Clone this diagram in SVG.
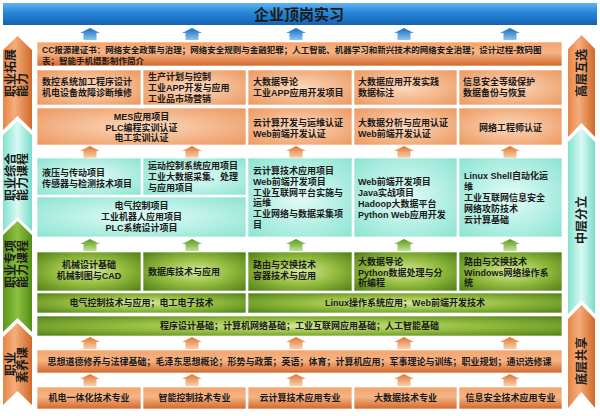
<svg xmlns="http://www.w3.org/2000/svg" xmlns:xlink="http://www.w3.org/1999/xlink" width="600" height="416" viewBox="0 0 600 416">
<defs>
<style>
.t{font-family:"Liberation Sans","Noto Sans CJK SC",sans-serif;font-size:9px;font-weight:bold;fill:#1a1a1a}
.c{text-anchor:middle}
.s{font-size:12px;dominant-baseline:central}
.ttl{font-size:15px;text-anchor:middle}
.bx{stroke:#ffffff;stroke-width:0.8;stroke-opacity:0.8}
.bo{fill:url(#gBox)}
.bb{fill:url(#gBar)}
.bc{fill:url(#gCyan)}
.bg{fill:url(#gGreen)}
.ab{fill:url(#aBlue)}
.ao{fill:url(#aOrange)}
.ag{fill:url(#aGreen)}
</style>
<linearGradient id="gTitle" x1="0" y1="0" x2="0" y2="1">
<stop offset="0" stop-color="#5eb2f2"/><stop offset="0.45" stop-color="#2686d6"/><stop offset="1" stop-color="#1662b0"/>
</linearGradient>
<linearGradient id="gBar" x1="0" y1="0" x2="0" y2="1">
<stop offset="0" stop-color="#f3a46c"/><stop offset="0.45" stop-color="#f5b485"/><stop offset="1" stop-color="#d2672a"/>
</linearGradient>
<radialGradient id="gBox" cx="0.5" cy="0.5" r="0.7">
<stop offset="0" stop-color="#fcd9bc"/><stop offset="1" stop-color="#ec9860"/>
</radialGradient>
<radialGradient id="gCyan" cx="0.5" cy="0.5" r="0.7">
<stop offset="0" stop-color="#e4fcf7"/><stop offset="1" stop-color="#8ce4d3"/>
</radialGradient>
<radialGradient id="gGreen" cx="0.5" cy="0.5" r="0.7">
<stop offset="0" stop-color="#d6e99a"/><stop offset="0.5" stop-color="#92ba3e"/><stop offset="1" stop-color="#4f7f16"/>
</radialGradient>
<linearGradient id="sO" x1="0" y1="0" x2="1" y2="0">
<stop offset="0" stop-color="#e48646"/><stop offset="0.4" stop-color="#f5ad7c"/><stop offset="1" stop-color="#d06a2a"/>
</linearGradient>
<linearGradient id="sC" x1="0" y1="0" x2="1" y2="0">
<stop offset="0" stop-color="#86e2d0"/><stop offset="0.5" stop-color="#d8faf3"/><stop offset="1" stop-color="#7cdbc9"/>
</linearGradient>
<linearGradient id="sG" x1="0" y1="0" x2="1" y2="0">
<stop offset="0" stop-color="#5c961c"/><stop offset="0.5" stop-color="#8cc040"/><stop offset="1" stop-color="#558c16"/>
</linearGradient>
<linearGradient id="aBlue" x1="0" y1="0" x2="0" y2="1">
<stop offset="0" stop-color="#176cbe"/><stop offset="1" stop-color="#8cc6f2"/>
</linearGradient>
<linearGradient id="aOrange" x1="0" y1="0" x2="0" y2="1">
<stop offset="0" stop-color="#de7632"/><stop offset="1" stop-color="#fad0ac"/>
</linearGradient>
<linearGradient id="aGreen" x1="0" y1="0" x2="0" y2="1">
<stop offset="0" stop-color="#5a981e"/><stop offset="1" stop-color="#c2e292"/>
</linearGradient>
<path id="arr" d="M0,0 L10,5 L6.5,5 L6.5,12 L-6.5,12 L-6.5,5 L-10,5 Z"/>
</defs>
<rect x="0" y="0" width="600" height="416" fill="#ffffff"/>

<g id="title">
<rect x="3" y="3" width="594" height="22" fill="url(#gTitle)"/>
<text class="t ttl" x="299" y="19.5">企业顶岗实习</text>
</g>

<g id="side-left">
<g id="side-tuozhan">
<polygon points="3,50 17.5,36 32,50 32,130 17.5,116 3,130" fill="url(#sO)"/>
<text class="t s" transform="translate(11,97) rotate(-90)">职业拓展</text>
<text class="t s" transform="translate(23,97) rotate(-90)">能力</text>
</g>
<g id="side-zonghe">
<polygon points="3,135 17.5,121 32,135 32,231 17.5,217 3,231" fill="url(#sC)"/>
<text class="t s" transform="translate(11,201) rotate(-90)">职业综合</text>
<text class="t s" transform="translate(23,201) rotate(-90)">能力课程</text>
</g>
<g id="side-zhuanxiang">
<polygon points="3,235 17.5,221 32,235 32,332 17.5,318 3,332" fill="url(#sG)"/>
<text class="t s" transform="translate(11,288) rotate(-90)">职业专项</text>
<text class="t s" transform="translate(23,288) rotate(-90)">能力课程</text>
</g>
<g id="side-suyang">
<polygon points="3,337 17.5,323 32,337 32,405 17.5,391 3,405" fill="url(#sO)"/>
<text class="t s c" transform="translate(11,364) rotate(-90)">职业</text>
<text class="t s c" transform="translate(23,365) rotate(-90)">素养课</text>
</g>
</g>

<g id="side-right">
<g id="side-gaoceng">
<polygon points="568,49 581.5,35 595,49 595,137 581.5,123 568,137" fill="url(#sO)"/>
<text class="t s c" transform="translate(581.5,73) rotate(-90)">高层互选</text>
</g>
<g id="side-zhongceng">
<polygon points="568,142 581.5,128 595,142 595,314 581.5,300 568,314" fill="url(#sC)"/>
<text class="t s c" transform="translate(581.5,220) rotate(-90)">中层分立</text>
</g>
<g id="side-diceng">
<polygon points="568,319 581.5,305 595,319 595,408 581.5,392 568,408" fill="url(#sO)"/>
<text class="t s c" transform="translate(581.5,361) rotate(-90)">底层共享</text>
</g>
</g>

<g id="connectors">
<use xlink:href="#arr" class="ab" x="90" y="28"/>
<use xlink:href="#arr" class="ab" x="192" y="28"/>
<use xlink:href="#arr" class="ab" x="296" y="28"/>
<use xlink:href="#arr" class="ab" x="404" y="28"/>
<use xlink:href="#arr" class="ab" x="510" y="28"/>
<use xlink:href="#arr" class="ao" x="90" y="146"/>
<use xlink:href="#arr" class="ao" x="192" y="146"/>
<use xlink:href="#arr" class="ao" x="296" y="146"/>
<use xlink:href="#arr" class="ao" x="404" y="146"/>
<use xlink:href="#arr" class="ao" x="510" y="146"/>
<use xlink:href="#arr" class="ag" x="90" y="239"/>
<use xlink:href="#arr" class="ag" x="192" y="239"/>
<use xlink:href="#arr" class="ag" x="296" y="239"/>
<use xlink:href="#arr" class="ag" x="404" y="239"/>
<use xlink:href="#arr" class="ag" x="510" y="239"/>
<use xlink:href="#arr" class="ao" x="90" y="337"/>
<use xlink:href="#arr" class="ao" x="192" y="337"/>
<use xlink:href="#arr" class="ao" x="296" y="337"/>
<use xlink:href="#arr" class="ao" x="404" y="337"/>
<use xlink:href="#arr" class="ao" x="510" y="337"/>
<use xlink:href="#arr" class="ao" x="90" y="374"/>
<use xlink:href="#arr" class="ao" x="192" y="374"/>
<use xlink:href="#arr" class="ao" x="296" y="374"/>
<use xlink:href="#arr" class="ao" x="404" y="374"/>
<use xlink:href="#arr" class="ao" x="510" y="374"/>
</g>

<g id="cert-bar">
<rect class="bx bb" x="37" y="42" width="525" height="24"/>
<text class="t" x="42" y="53" style="font-size:8.5px">CC报源建证书：网络安全政策与治理；网络安全规则与金融犯罪；人工智能、机器学习和新兴技术的网络安全治理；设计过程-数码图</text>
<text class="t" x="42" y="63.5" style="font-size:8.5px">表；智能手机摄影制作简介</text>
</g>

<g id="r2-1">
<rect class="bx bo" x="37" y="70" width="104" height="35"/>
<text class="t" x="42" y="85.3">数控系统加工程序设计</text>
<text class="t" x="42" y="96.3">机电设备故障诊断维修</text>
</g>
<g id="r2-2">
<rect class="bx bo" x="143" y="70" width="103" height="35"/>
<text class="t" x="148" y="79.8">生产计划与控制</text>
<text class="t" x="148" y="91.3">工业APP开发与应用</text>
<text class="t" x="148" y="102.3">工业品市场营销</text>
</g>
<g id="r2-3">
<rect class="bx bo" x="248" y="70" width="104" height="35"/>
<text class="t" x="253" y="85.3">大数据导论</text>
<text class="t" x="253" y="96.3">工业APP应用开发项目</text>
</g>
<g id="r2-4">
<rect class="bx bo" x="354" y="70" width="103" height="35"/>
<text class="t" x="358" y="85.3">大数据应用开发实践</text>
<text class="t" x="358" y="96.3">数据标注</text>
</g>
<g id="r2-5">
<rect class="bx bo" x="459" y="70" width="103" height="35"/>
<text class="t" x="463" y="85.3">信息安全等级保护</text>
<text class="t" x="463" y="96.3">数据备份与恢复</text>
</g>

<g id="r3-1">
<rect class="bx bo" x="37" y="108" width="209" height="37"/>
<text class="t c" x="141.5" y="120.3">MES应用项目</text>
<text class="t c" x="141.5" y="130.8">PLC编程实训认证</text>
<text class="t c" x="141.5" y="141.3">电工实训认证</text>
</g>
<g id="r3-2">
<rect class="bx bo" x="248" y="108" width="104" height="37"/>
<text class="t" x="253" y="126.3">云计算开发与运维认证</text>
<text class="t" x="253" y="136.8">Web前端开发认证</text>
</g>
<g id="r3-3">
<rect class="bx bo" x="354" y="108" width="103" height="37"/>
<text class="t" x="358" y="126.3">大数据分析与应用认证</text>
<text class="t" x="358" y="136.8">Web前端开发认证</text>
</g>
<g id="r3-4">
<rect class="bx bo" x="459" y="108" width="103" height="37"/>
<text class="t c" x="510.5" y="131.3">网络工程师认证</text>
</g>

<g id="c-1">
<rect class="bx bc" x="37" y="158" width="104" height="37"/>
<text class="t" x="42" y="176.3">液压与传动项目</text>
<text class="t" x="42" y="186.8">传感器与检测技术项目</text>
</g>
<g id="c-2">
<rect class="bx bc" x="143" y="158" width="103" height="37"/>
<text class="t" x="148" y="169.3">运动控制系统应用项目</text>
<text class="t" x="148" y="180.3">工业大数据采集、处理</text>
<text class="t" x="148" y="191.3">与应用项目</text>
</g>
<g id="c-3">
<rect class="bx bc" x="37" y="197" width="209" height="40"/>
<text class="t c" x="141.5" y="209.3">电气控制项目</text>
<text class="t c" x="141.5" y="220.3">工业机器人应用项目</text>
<text class="t c" x="141.5" y="231.3">PLC系统设计项目</text>
</g>
<g id="c-4">
<rect class="bx bc" x="248" y="158" width="104" height="79"/>
<text class="t" x="253" y="174.3">云计算技术应用项目</text>
<text class="t" x="253" y="185.3">Web前端开发项目</text>
<text class="t" x="253" y="195.8">工业互联网平台实施与</text>
<text class="t" x="253" y="206.3">运维</text>
<text class="t" x="253" y="217.3">工业网络与数据采集项</text>
<text class="t" x="253" y="228.3">目</text>
</g>
<g id="c-5">
<rect class="bx bc" x="354" y="158" width="103" height="79"/>
<text class="t" x="358" y="185.3">Web前端开发项目</text>
<text class="t" x="358" y="196.3">Java实战项目</text>
<text class="t" x="358" y="207.3">Hadoop大数据平台</text>
<text class="t" x="358" y="218.3">Python Web应用开发</text>
</g>
<g id="c-6">
<rect class="bx bc" x="459" y="158" width="103" height="79"/>
<text class="t" x="464" y="179.3">Linux Shell自动化运</text>
<text class="t" x="464" y="190.3">维</text>
<text class="t" x="464" y="201.3">工业互联网信息安全</text>
<text class="t" x="464" y="212.3">网络攻防技术</text>
<text class="t" x="464" y="223.3">云计算基础</text>
</g>

<g id="g-1">
<rect class="bx bg" x="37" y="252" width="104" height="39"/>
<text class="t c" x="89" y="268.3">机械设计基础</text>
<text class="t c" x="89" y="279.3">机械制图与CAD</text>
</g>
<g id="g-2">
<rect class="bx bg" x="143" y="252" width="103" height="39"/>
<text class="t" x="148" y="275.3">数据库技术与应用</text>
</g>
<g id="g-3">
<rect class="bx bg" x="248" y="252" width="104" height="39"/>
<text class="t" x="253" y="268.3">路由与交换技术</text>
<text class="t" x="253" y="279.3">容器技术与应用</text>
</g>
<g id="g-4">
<rect class="bx bg" x="354" y="252" width="103" height="39"/>
<text class="t" x="358" y="265.3">大数据导论</text>
<text class="t" x="358" y="275.8">Python数据处理与分</text>
<text class="t" x="358" y="286.3">析编程</text>
</g>
<g id="g-5">
<rect class="bx bg" x="459" y="252" width="103" height="39"/>
<text class="t" x="464" y="265.3">路由与交换技术</text>
<text class="t" x="464" y="275.8">Windows网络操作系</text>
<text class="t" x="464" y="286.3">统</text>
</g>
<g id="g-6">
<rect class="bx bg" x="37" y="293" width="209" height="20"/>
<text class="t c" x="141.5" y="306.3">电气控制技术与应用；电工电子技术</text>
</g>
<g id="g-7">
<rect class="bx bg" x="248" y="293" width="314" height="20"/>
<text class="t c" x="405" y="306.3">Linux操作系统应用；Web前端开发技术</text>
</g>
<g id="g-8">
<rect class="bx bg" x="37" y="316" width="525" height="20"/>
<text class="t c" x="299.5" y="329.3">程序设计基础；计算机网络基础；工业互联网应用基础；人工智能基础</text>
</g>

<g id="base-bar">
<rect class="bx bb" x="37" y="350" width="525" height="23"/>
<text class="t c" x="299.5" y="364.8">思想道德修养与法律基础；毛泽东思想概论；形势与政策；英语；体育；计算机应用；军事理论与训练；职业规划；通识选修课</text>
</g>

<g id="m-1">
<rect class="bx bb" x="37" y="387" width="104" height="22"/>
<text class="t c" x="89" y="401.3">机电一体化技术专业</text>
</g>
<g id="m-2">
<rect class="bx bb" x="143" y="387" width="103" height="22"/>
<text class="t c" x="194.5" y="401.3">智能控制技术专业</text>
</g>
<g id="m-3">
<rect class="bx bb" x="248" y="387" width="104" height="22"/>
<text class="t c" x="300" y="401.3">云计算技术应用专业</text>
</g>
<g id="m-4">
<rect class="bx bb" x="354" y="387" width="103" height="22"/>
<text class="t c" x="405.5" y="401.3">大数据技术专业</text>
</g>
<g id="m-5">
<rect class="bx bb" x="459" y="387" width="103" height="22"/>
<text class="t c" x="510.5" y="401.3">信息安全技术应用专业</text>
</g>
</svg>
